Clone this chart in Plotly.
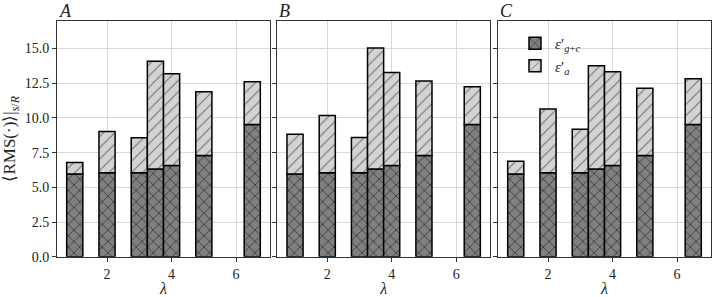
import plotly.graph_objects as go

# ---- data ----
lam = [1, 2, 3, 3.5, 4, 5, 6.5]
panels = ["A", "B", "C"]
eps_gc = [5.97, 6.06, 6.06, 6.33, 6.57, 7.29, 9.53]
total_A = [6.80, 9.02, 8.57, 14.08, 13.19, 11.89, 12.61]
total_B = [8.83, 10.18, 8.59, 15.04, 13.28, 12.66, 12.25]
total_C = [6.88, 10.64, 9.19, 13.77, 13.33, 12.15, 12.83]
totals = [total_A, total_B, total_C]
y_ticks = [0, 2.5, 5, 7.5, 10, 12.5, 15]
x_ticks = [2, 4, 6]

W, H = 714, 297
FIG_H = 306
FONT = "Liberation Serif, serif"

# panel pixel extents (left, right)
px = [(57, 270), (277.3, 490), (498, 711)]
top_px, bot_px = 20.7, 256

fig = go.Figure()
for i, (name, tot) in enumerate(zip(panels, totals)):
    xa = "x" if i == 0 else f"x{i+1}"
    ya = "y" if i == 0 else f"y{i+1}"
    eps_a = [t - g for t, g in zip(tot, eps_gc)]
    fig.add_trace(go.Bar(
        x=lam, y=eps_gc, width=0.5, xaxis=xa, yaxis=ya,
        name="<i>ε</i>′<sub><i>g</i>+<i>c</i></sub>",
        legendgroup="gc", showlegend=(i == 2),
        marker=dict(color="#808080", line=dict(color="black", width=1.5),
                    pattern=dict(shape="x", fgcolor="black", bgcolor="#808080",
                                 size=8, solidity=0.22)),
    ))
    fig.add_trace(go.Bar(
        x=lam, y=eps_a, base=eps_gc, width=0.5, xaxis=xa, yaxis=ya,
        name="<i>ε</i>′<sub><i>a</i></sub>",
        legendgroup="a", showlegend=(i == 2),
        marker=dict(color="#d3d3d3", line=dict(color="black", width=1.5),
                    pattern=dict(shape="/", fgcolor="black", bgcolor="#d3d3d3",
                                 size=8, solidity=0.12)),
    ))

layout = dict(
    width=W, height=FIG_H, autosize=False,
    margin=dict(l=0, r=0, t=0, b=0),
    paper_bgcolor="white", plot_bgcolor="white",
    font=dict(family=FONT, size=14, color="#222"),
    barmode="overlay",
    legend=dict(x=515 / W, y=1 - 27 / H, xanchor="left", yanchor="top",
                bgcolor="rgba(0,0,0,0)", traceorder="normal",
                font=dict(size=15, family=FONT), tracegroupgap=17),
)
ydom = [(H - bot_px) / H, (H - top_px) / H]
for i in range(3):
    sfx = "" if i == 0 else str(i + 1)
    layout["xaxis" + sfx] = dict(
        domain=[px[i][0] / W, px[i][1] / W], range=[0.45, 7.05],
        anchor="y" + sfx, tickvals=x_ticks, ticks="outside", ticklen=4,
        tickcolor="#333", showgrid=True, gridcolor="#d9d9d9", gridwidth=1,
        showline=True, linecolor="#333", linewidth=1, mirror=True,
        zeroline=False,
        tickfont=dict(family=FONT, size=14),
        title=dict(text="<i>λ</i>", standoff=2, font=dict(size=16, family=FONT)),
    )
    layout["yaxis" + sfx] = dict(
        domain=ydom, range=[0, 17], anchor="x" + sfx,
        tickvals=y_ticks, ticktext=[f"{v:.1f}" for v in y_ticks],
        showticklabels=(i == 0), ticks="outside", ticklen=4, tickcolor="#333",
        tickfont=dict(family=FONT, size=14),
        showgrid=True, gridcolor="#d9d9d9", gridwidth=1,
        showline=True, linecolor="#333", linewidth=1, mirror=True,
        zeroline=False,
    )
layout["yaxis"]["title"] = dict(text="⟨RMS(·)⟩|<sub><i>s</i>/<i>R</i></sub>",
                                standoff=6, font=dict(size=17, family=FONT))
fig.update_layout(**layout)

for i, name in enumerate(panels):
    fig.add_annotation(text=f"<i>{name}</i>", xref="paper", yref="paper",
                       x=px[i][0] / W, y=(H - top_px) / H, xanchor="left",
                       yanchor="bottom", showarrow=False,
                       font=dict(size=18, family=FONT, color="#222"), yshift=-2)

js = ("document.body.style.margin='0';"
      "document.body.style.overflow='hidden';")
fig.write_html("out.html", config={"displayModeBar": False, "responsive": False},
               post_script=js)
